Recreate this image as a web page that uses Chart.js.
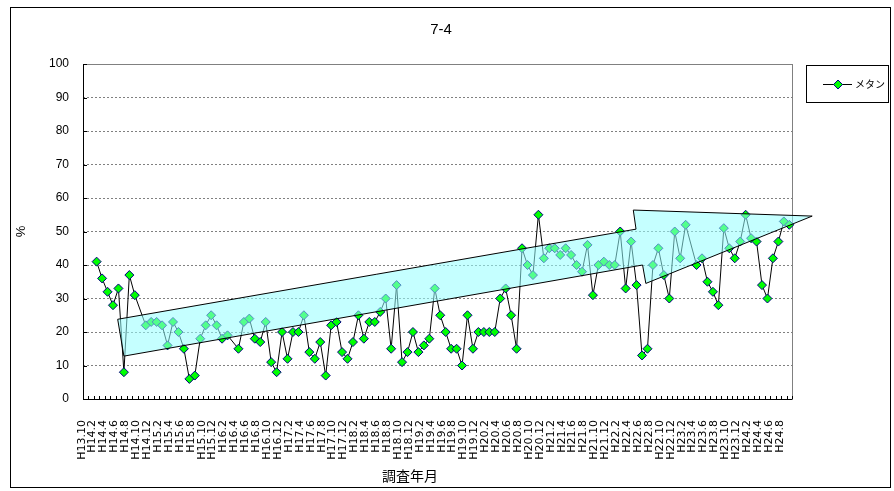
<!DOCTYPE html>
<html>
<head>
<meta charset="utf-8">
<title>7-4</title>
<script src="https://cdn.jsdelivr.net/npm/chart.js@4"></script>
<style>
  html, body { margin: 0; padding: 0; background: #fff; }
  canvas { display: block; }
</style>
</head>
<body>
<canvas id="chart" width="894" height="491"></canvas>
<script>
// 7-4 : メタン (%) by survey month

const chartTitle = '7-4';
const seriesName = 'メタン';
const xTitle = '調査年月';
const yTitle = '%';

// x labels, one every 2 categories
const tickLabels = [
  'H13.10', 'H14.2', 'H14.4', 'H14.6', 'H14.8', 'H14.10', 'H14.12',
  'H15.2', 'H15.4', 'H15.6', 'H15.8', 'H15.10', 'H15.12',
  'H16.2', 'H16.4', 'H16.6', 'H16.8', 'H16.10', 'H16.12',
  'H17.2', 'H17.4', 'H17.6', 'H17.8', 'H17.10', 'H17.12',
  'H18.2', 'H18.4', 'H18.6', 'H18.8', 'H18.10', 'H18.12',
  'H19.2', 'H19.4', 'H19.6', 'H19.8', 'H19.10', 'H19.12',
  'H20.2', 'H20.4', 'H20.6', 'H20.8', 'H20.10', 'H20.12',
  'H21.2', 'H21.4', 'H21.6', 'H21.8', 'H21.10', 'H21.12',
  'H22.2', 'H22.4', 'H22.6', 'H22.8', 'H22.10', 'H22.12',
  'H23.2', 'H23.4', 'H23.6', 'H23.8', 'H23.10', 'H23.12',
  'H24.2', 'H24.4', 'H24.6', 'H24.8'
];

// categories: H13.10, then every month H14.1 .. H24.9
const categories = ['H13.10'];
for (let yr = 14; yr <= 24; yr++) {
  for (let m = 1; m <= 12; m++) {
    if (yr === 24 && m > 9) break;
    categories.push('H' + yr + '.' + m);
  }
}

// メタン %, null = no survey that month
const methane = [
  null, null, 41, 36, 32, 28, 33, 8, 37, 31,
  null, 22, 23, 23, 22, 16, 23, 20, 15, 6,
  7, 18, 22, 25, 22, 18, 19, null, 15, 23,
  24, 18, 17, 23, 11, 8, 20, 12, 20, 20,
  25, 14, 12, 17, 7, 22, 23, 14, 12, 17,
  25, 18, 23, 23, 26, 30, 15, 34, 11, 14,
  20, 14, 16, 18, 33, 25, 20, 15, 15, 10,
  25, 15, 20, 20, 20, 20, 30, 33, 25, 15,
  45, 40, 37, 55, 42, 45, 45, 43, 45, 43,
  40, 38, 46, 31, 40, 41, 40, 40, 50, 33,
  47, 34, 13, 15, 40, 45, 37, 30, 50, 42,
  52, null, 40, 42, 35, 32, 28, 51, 45, 42,
  47, 55, 48, 47, 34, 30, 42, 47, 53, 52
];

// trend arrow outline, in (category index, %) units
const arrowShape = [
  [5.86, 23.8], [100.9, 50.7], [100.4, 56.4], [133.2, 54.6],
  [102.7, 34.5], [102.1, 40.0], [7.0, 12.8]
];

const FONT = '"Liberation Sans", "Noto Sans CJK JP", sans-serif';
const JFONT = '"Noto Sans CJK JP", "Liberation Sans", sans-serif';

function diamond(ctx, cx, cy, r) {
  ctx.beginPath();
  ctx.moveTo(cx, cy - r);
  ctx.lineTo(cx + r, cy);
  ctx.lineTo(cx, cy + r);
  ctx.lineTo(cx - r, cy);
  ctx.closePath();
  ctx.fill();
  ctx.stroke();
}

const decorations = {
  id: 'decorations',
  beforeDatasetsDraw(chart) {
    const { ctx, chartArea: a, scales: { x, y } } = chart;
    ctx.save();
    ctx.lineWidth = 1;
    // plot frame
    ctx.strokeStyle = '#808080';
    ctx.strokeRect(a.left + 0.5, a.top + 0.5, a.right - a.left, a.bottom - a.top);
    // axes + inside tick marks
    ctx.strokeStyle = '#000';
    ctx.beginPath();
    ctx.moveTo(a.left + 0.5, a.top);
    ctx.lineTo(a.left + 0.5, a.bottom + 0.5);
    ctx.lineTo(a.right, a.bottom + 0.5);
    for (let i = 0; i <= categories.length; i++) {
      const px = Math.round(x.getPixelForValue(i - 0.5)) + 0.5;
      ctx.moveTo(px, a.bottom);
      ctx.lineTo(px, a.bottom - 3);
    }
    y.ticks.forEach(t => {
      const py = Math.round(y.getPixelForValue(t.value)) + 0.5;
      ctx.moveTo(a.left, py);
      ctx.lineTo(a.left + 4, py);
    });
    ctx.stroke();
    ctx.restore();
  },
  afterDatasetsDraw(chart) {
    const { ctx, scales: { x, y } } = chart;
    ctx.save();
    ctx.beginPath();
    arrowShape.forEach(([cx, cy], i) => {
      const px = x.getPixelForValue(cx), py = y.getPixelForValue(cy);
      if (i === 0) ctx.moveTo(px, py); else ctx.lineTo(px, py);
    });
    ctx.closePath();
    ctx.fillStyle = 'rgba(150, 255, 255, 0.55)';
    ctx.fill();
    ctx.strokeStyle = '#000';
    ctx.lineWidth = 1;
    ctx.stroke();
    ctx.restore();
  },
  afterDraw(chart) {
    const { ctx, chartArea: a } = chart;
    const ds = chart.data.datasets[0];
    ctx.save();
    ctx.fillStyle = '#000';
    ctx.strokeStyle = '#000';
    ctx.lineWidth = 1;

    // outer frame
    ctx.strokeRect(10.5, 7.5, 880, 480);

    // title
    ctx.font = '15px ' + FONT;
    ctx.textAlign = 'center';
    ctx.textBaseline = 'middle';
    ctx.fillText(chartTitle, 441, 30);

    // x axis title
    ctx.font = '14px ' + JFONT;
    ctx.fillText(xTitle, a.left + 327, 476);

    // legend
    const lx = a.right + 14, ly = a.top + 1;
    ctx.strokeRect(lx + 0.5, ly + 0.5, 82, 37);
    const cy = ly + 19;
    ctx.beginPath();
    ctx.moveTo(lx + 17, cy + 0.5);
    ctx.lineTo(lx + 46, cy + 0.5);
    ctx.stroke();
    ctx.fillStyle = ds.pointBackgroundColor;
    ctx.strokeStyle = ds.pointBorderColor;
    diamond(ctx, lx + 32, cy + 0.5, 4.5);
    ctx.fillStyle = '#000';
    ctx.font = '10px ' + JFONT;
    ctx.textAlign = 'left';
    ctx.fillText(seriesName, lx + 49, cy + 0.5);
    ctx.restore();
  }
};

new Chart(document.getElementById('chart'), {
  type: 'line',
  data: {
    labels: categories,
    datasets: [{
      label: seriesName,
      data: methane,
      borderColor: '#000000',
      borderWidth: 1,
      tension: 0,
      spanGaps: true,
      pointStyle: 'rectRot',
      pointRadius: 4.5,
      pointBorderWidth: 1,
      pointBackgroundColor: '#00ff00',
      pointBorderColor: '#000080',
      clip: false
    }]
  },
  options: {
    responsive: false,
    animation: false,
    devicePixelRatio: 1,
    events: [],
    layout: { padding: { left: 0, top: 64, right: 102, bottom: 0 } },
    plugins: {
      legend: { display: false },
      title: { display: false },
      tooltip: { enabled: false }
    },
    scales: {
      x: {
        type: 'category',
        offset: true,
        grid: { display: false },
        border: { display: false },
        ticks: {
          autoSkip: false,
          minRotation: 90,
          maxRotation: 90,
          padding: 13,
          labelOffset: -4,
          color: '#000',
          font: { family: '"DejaVu Sans", sans-serif', size: 11 },
          callback: (val, i) => (i % 2 === 0 ? tickLabels[i / 2] : '')
        },
        afterFit: scale => { scale.height = 92; }
      },
      y: {
        min: 0,
        max: 100,
        grid: { color: '#808080', lineWidth: 1, drawTicks: false },
        border: { display: false, dash: [2, 2] },
        ticks: {
          stepSize: 10,
          padding: 14,
          color: '#000',
          font: { family: FONT, size: 12 }
        },
        title: {
          display: true,
          text: yTitle,
          color: '#000',
          font: { family: FONT, size: 13 },
          padding: { top: 14, bottom: 0 }
        },
        afterFit: scale => { scale.width = 83; }
      }
    }
  },
  plugins: [decorations]
});
</script>
</body>
</html>
